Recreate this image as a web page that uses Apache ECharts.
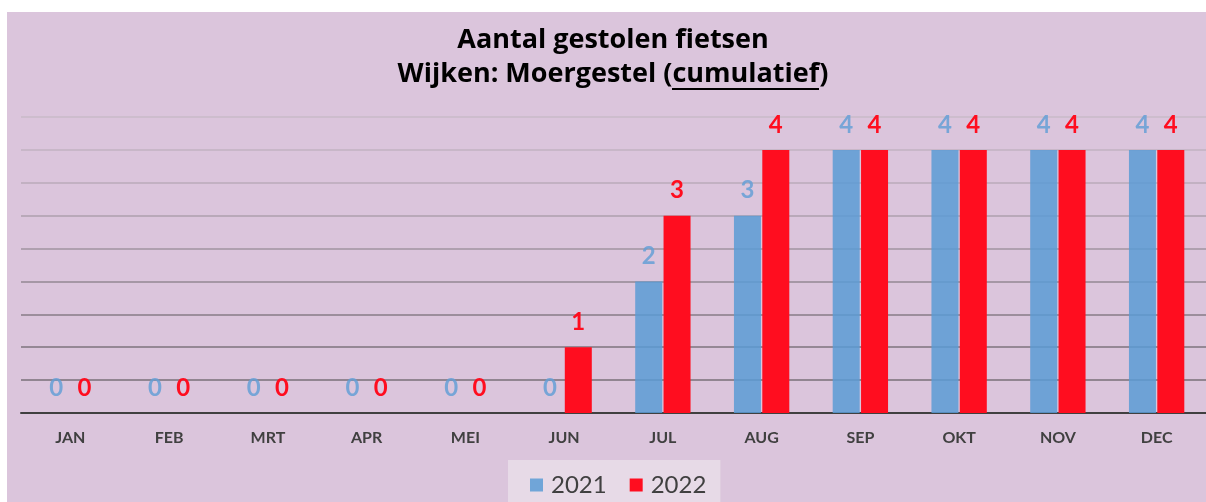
<!DOCTYPE html>
<html>
<head>
<meta charset="utf-8">
<title>Aantal gestolen fietsen</title>
<style>
  html, body { margin: 0; padding: 0; background: #ffffff; }
  #container { position: absolute; left: 7px; top: 12px; width: 1199px; height: 490px; }
</style>
</head>
<body>
<div id="container"></div>
<script src="https://cdn.jsdelivr.net/npm/echarts@6/dist/echarts.min.js"></script>
<script>
// maanden en cumulatieve aantallen
var maanden = ['JAN', 'FEB', 'MRT', 'APR', 'MEI', 'JUN', 'JUL', 'AUG', 'SEP', 'OKT', 'NOV', 'DEC'];
var jaren = ['2021', '2022'];
var data2021 = [0, 0, 0, 0, 0, 0, 2, 3, 4, 4, 4, 4];
var data2022 = [0, 0, 0, 0, 0, 1, 3, 4, 4, 4, 4, 4];

var fontFam = 'Lato, "Open Sans", sans-serif';
var titelFont = 'bold 27px "Open Sans", Lato, sans-serif';
var blauw = '#5b9bd5';
var rood = '#ff0d1f';

// rasterlijnen worden naar boven toe lichter
var lijnKleuren = ['#8f838f', '#918591', '#958895', '#9c8e9c', '#a597a5', '#afa0af', '#b9a9b9', '#c2b1c2', '#c8b7c8', '#cdbdcd'];

var titel1 = 'Aantal gestolen fietsen';
var titel2 = 'Wijken: Moergestel (';
var titelWoord = 'cumulatief';
var titel3 = ')';

var el = document.getElementById('container');
var myChart = echarts.init(el);

// titel staat iets rechts van het midden; onderstreping uitrekenen
var titelMidden = 606;
var ctx = document.createElement('canvas').getContext('2d');
ctx.font = titelFont;
var breedte = ctx.measureText(titel2 + titelWoord + titel3).width;
var voor = ctx.measureText(titel2).width;
var woord = ctx.measureText(titelWoord).width;
var lijnX = titelMidden - breedte / 2 + voor;

var option = {
  backgroundColor: '#dbc5dc',
  textStyle: { fontFamily: fontFam },
  graphic: [
    {
      type: 'text',
      x: titelMidden,
      y: 15,
      style: { text: titel1, font: titelFont, fill: '#000000', align: 'center', verticalAlign: 'top' }
    },
    {
      type: 'text',
      x: titelMidden,
      y: 49,
      style: { text: titel2 + titelWoord + titel3, font: titelFont, fill: '#000000', align: 'center', verticalAlign: 'top' }
    },
    {
      type: 'rect',
      x: Math.round(lijnX),
      y: 76,
      shape: { width: Math.round(woord), height: 2 },
      style: { fill: '#000000' }
    }
  ],
  legend: {
    data: jaren,
    left: 501,
    top: 448,
    backgroundColor: '#e7dae7',
    padding: [13, 14, 16, 22],
    icon: 'rect',
    itemWidth: 13,
    itemHeight: 13,
    itemGap: 23,
    textStyle: { fontFamily: fontFam, fontSize: 24, color: '#404040', padding: [0, 0, 0, 3] }
  },
  grid: {
    left: 14,
    right: -1,
    top: 105,
    bottom: 89,
    containLabel: false
  },
  xAxis: {
    type: 'category',
    data: maanden,
    axisTick: { show: false },
    axisLine: { lineStyle: { color: '#404040', width: 2 } },
    axisLabel: {
      margin: 17,
      fontFamily: fontFam,
      fontWeight: 'bold',
      fontSize: 16,
      color: '#404040'
    }
  },
  yAxis: {
    type: 'value',
    min: 0,
    max: 4.5,
    interval: 0.5,
    axisLabel: { show: false },
    axisLine: { show: false },
    axisTick: { show: false },
    splitLine: { lineStyle: { color: lijnKleuren, width: 2 } }
  },
  series: [
    {
      name: '2021',
      type: 'bar',
      data: data2021,
      barWidth: 27,
      barGap: '5%',
      itemStyle: { color: blauw, opacity: 0.85 },
      label: {
        show: true,
        position: 'top',
        distance: 13,
        fontFamily: fontFam,
        fontWeight: 'bold',
        fontSize: 24,
        color: '#659fd6'
      }
    },
    {
      name: '2022',
      type: 'bar',
      data: data2022,
      barWidth: 27,
      itemStyle: { color: rood },
      label: {
        show: true,
        position: 'top',
        distance: 13,
        fontFamily: fontFam,
        fontWeight: 'bold',
        fontSize: 24,
        color: rood
      }
    }
  ]
};

myChart.setOption(option);
</script>
</body>
</html>
